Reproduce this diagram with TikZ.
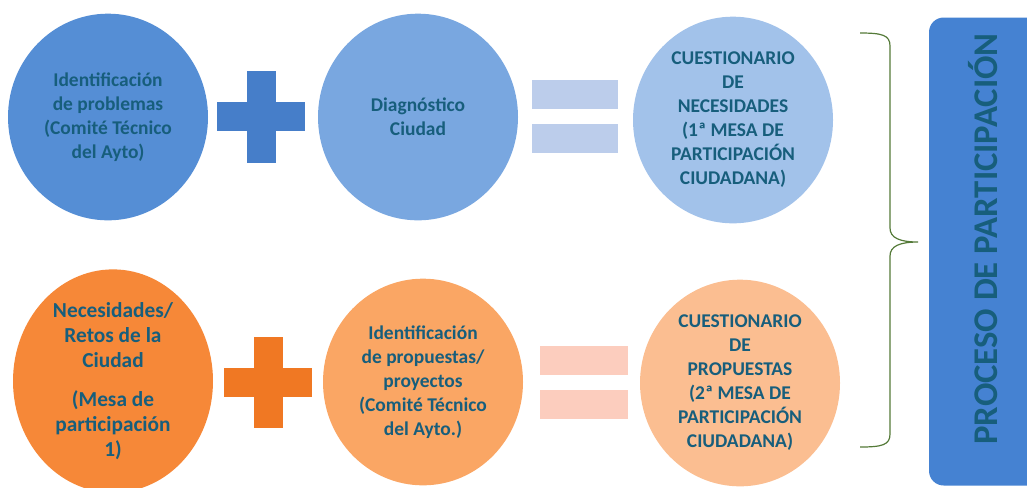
\documentclass[tikz,border=0pt]{standalone}
\usepackage{fontspec}
\setmainfont{Carlito}
\usepackage{tikz}
\usetikzlibrary{shapes.geometric}
\usetikzlibrary{positioning}

\definecolor{blueA}{RGB}{85,142,213}
\definecolor{blueB}{RGB}{121,167,224}
\definecolor{blueC}{RGB}{162,194,234}
\definecolor{plusblue}{RGB}{70,126,201}
\definecolor{eqblue}{RGB}{188,205,235}
\definecolor{orangeA}{RGB}{246,136,56}
\definecolor{orangeB}{RGB}{250,166,100}
\definecolor{orangeC}{RGB}{251,190,145}
\definecolor{plusorange}{RGB}{240,120,35}
\definecolor{eqorange}{RGB}{252,205,190}
\definecolor{boxblue}{RGB}{69,130,210}
\definecolor{bracegreen}{RGB}{84,122,56}
\definecolor{textteal}{RGB}{23,94,124}

\begin{document}
\begin{tikzpicture}[
    x=0.75pt, y=-0.75pt,
    bubble/.style={ellipse, minimum width=150pt, minimum height=155pt, inner sep=0pt,
                   align=center, text=textteal, font=\bfseries\fontsize{14.6}{18}\selectfont},
    bar/.style={inner sep=0pt, minimum width=66pt, minimum height=21.75pt},
    post/.style={inner sep=0pt, minimum width=21.75pt, minimum height=69pt}
]

\useasboundingbox (0,0) rectangle (1027,487);
\clip (0,0) rectangle (1027,487);

% --- First row (blue) ---
\node[bubble, fill=blueA] (prob) at (108,117)
    {Identificación\\de problemas\\(Comité Técnico\\del Ayto)};
\node[bubble, fill=blueB] (diag) at (418,117) {Diagnóstico\\Ciudad};
\node[bubble, fill=blueC] (cuest1) at (733,120)
    {CUESTIONARIO\\DE\\NECESIDADES\\(1ª MESA DE\\PARTICIPACIÓN\\CIUDADANA)};

% --- Second row (orange) ---
\node[bubble, fill=orangeA, minimum height=151pt, font=\bfseries\fontsize{16}{18.75}\selectfont] (retos) at (113,381)
    {Necesidades/\\Retos de la\\Ciudad\\[11pt](Mesa de\\participación\\1)};
\node[bubble, fill=orangeB] (prop) at (423,382)
    {Identificación\\de propuestas/\\proyectos\\(Comité Técnico\\del Ayto.)};
\node[bubble, fill=orangeC] (cuest2) at (740,383)
    {CUESTIONARIO\\DE\\PROPUESTAS\\(2ª MESA DE\\PARTICIPACIÓN\\CIUDADANA)};

% --- Plus signs ---
\node[bar, fill=plusblue] (plus1h) at (261,116.5) {};
\node[post, fill=plusblue] (plus1v) at (261,116.5) {};
\node[bar, fill=plusorange] (plus2h) at (268,382.5) {};
\node[post, fill=plusorange, minimum height=68.25pt] (plus2v) at (268,382.5) {};

% --- Equals signs ---
\node[bar, fill=eqblue, minimum width=64.5pt] (eq1a) at (575,94.5) {};
\node[bar, fill=eqblue, minimum width=64.5pt] (eq1b) at (575,138.5) {};
\node[bar, fill=eqorange] (eq2a) at (584,360.5) {};
\node[bar, fill=eqorange] (eq2b) at (584,404) {};

% --- Brace ---
\draw[bracegreen, line width=0.9pt]
    (860,33) .. controls (882,33) and (890,35) .. (890,46) -- (890,228)
    .. controls (890,238) and (900,242) .. (918,242)
    .. controls (900,242) and (890,246) .. (890,256) -- (890,434)
    .. controls (890,445) and (882,447) .. (860,447);

% --- Process box ---
\node[fill=boxblue, rounded corners=11pt, minimum width=87pt, minimum height=351pt,
      inner sep=0pt] (procbox) at (987,251.5) {};
\node[rotate=90, text=textteal, font=\bfseries\fontsize{26}{30}\selectfont] (proctext) at (983,239)
    {PROCESO DE PARTICIPACIÓN};

\end{tikzpicture}
\end{document}
